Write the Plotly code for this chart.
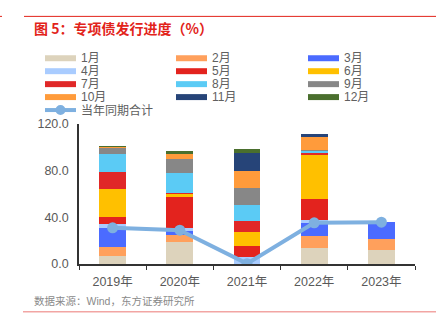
import plotly.graph_objects as go

# Cumulative issuance progress of special bonds, by month (%)
years = ["2019年", "2020年", "2021年", "2022年", "2023年"]
months = ["1月", "2月", "3月", "4月", "5月", "6月", "7月", "8月", "9月", "10月", "11月", "12月"]

jan = [6.7, 18.7, 0.0, 13.3, 11.8]
feb = [7.7, 6.0, 0.0, 10.5, 9.8]
mar = [16.6, 4.3, 0.3, 11.5, 14.2]
apr = [2.9, 1.7, 5.8, 2.8, 0.0]
may = [6.2, 26.6, 9.3, 17.8, 0.0]
jun = [24.3, 2.9, 12.0, 37.7, 0.0]
jul = [14.3, 0.5, 9.4, 1.4, 0.0]
aug = [15.2, 17.0, 13.7, 2.3, 0.0]
sep = [6.0, 12.0, 14.3, 0.3, 0.0]
oct_ = [0.4, 5.1, 14.8, 12.0, 0.0]
nov = [0.2, 0.3, 15.8, 1.5, 0.0]
dec = [0.2, 1.4, 2.8, 0.0, 0.0]
same_period = [31.0, 29.0, 0.3, 35.3, 35.8]

monthly = [jan, feb, mar, apr, may, jun, jul, aug, sep, oct_, nov, dec]
colors = ["#DDD3BC", "#FFA05C", "#4B6BFF", "#A9CCFF", "#E3231E", "#FFC000",
          "#E02828", "#5BCBF5", "#878787", "#FF9B3B", "#264478", "#4A6F2E"]
line_color = "#7EB0E0"
font_family = "Liberation Sans, Noto Sans CJK SC, sans-serif"

W, H = 441, 327
ML, MR, MT, MB = 79, 26, 124, 62.5
PW, PH = W - ML - MR, H - MT - MB

fig = go.Figure()
for name, vals, c in zip(months, monthly, colors):
    fig.add_trace(go.Bar(x=years, y=vals, name=name, marker=dict(color=c, line=dict(width=0)),
                         showlegend=False))

fig.add_trace(go.Scatter(x=years, y=same_period, name="当年同期合计", mode="lines+markers",
                         line=dict(color=line_color, width=4),
                         marker=dict(color=line_color, size=11), showlegend=False))


# helpers: page pixel -> paper coordinates (paper spans the plot area)
def px(x):
    return (x - ML) / PW


def py(y):
    return (H - MB - y) / PH


shapes = []
annotations = []

# Hand-placed legend: three columns of month swatches, then the line entry
col_x = [45, 176, 308]
row_y = [58, 71, 84, 97]
for i, (name, c) in enumerate(zip(months, colors)):
    r, k = divmod(i, 3)
    x0 = col_x[k]
    y = row_y[r]
    shapes.append(dict(type="rect", xref="paper", yref="paper",
                       x0=px(x0), x1=px(x0 + 31), y0=py(y + 3), y1=py(y - 3),
                       fillcolor=c, line=dict(width=0)))
    annotations.append(dict(xref="paper", yref="paper", x=px(x0 + 34), y=py(y),
                            text=name, showarrow=False, xanchor="left", yanchor="middle",
                            font=dict(size=12, color="#606060", family=font_family)))
ly = 110
shapes.append(dict(type="line", xref="paper", yref="paper",
                   x0=px(45), x1=px(76), y0=py(ly), y1=py(ly),
                   line=dict(color=line_color, width=4)))
shapes.append(dict(type="circle", xref="paper", yref="paper",
                   x0=px(55.5), x1=px(65.5), y0=py(ly + 5), y1=py(ly - 5),
                   fillcolor=line_color, line=dict(width=0)))
annotations.append(dict(xref="paper", yref="paper", x=px(79), y=py(ly),
                        text="当年同期合计", showarrow=False, xanchor="left", yanchor="middle",
                        font=dict(size=12, color="#606060", family=font_family)))

# Title, source note and frame rules
annotations.append(dict(xref="paper", yref="paper", x=px(32), y=py(28),
                        text="<b>图 5：专项债发行进度（%）</b>", showarrow=False,
                        xanchor="left", yanchor="middle",
                        font=dict(size=14, color="#E2231A", family="Noto Sans CJK SC")))
annotations.append(dict(xref="paper", yref="paper", x=px(32), y=py(302),
                        text="数据来源：Wind，东方证券研究所", showarrow=False,
                        xanchor="left", yanchor="middle",
                        font=dict(size=10.5, color="#8A8A8A", family=font_family)))
shapes.append(dict(type="line", xref="paper", yref="paper", x0=px(24), x1=px(436),
                   y0=py(16), y1=py(16), line=dict(color="#E2231A", width=1)))
shapes.append(dict(type="line", xref="paper", yref="paper", x0=px(0), x1=px(2),
                   y0=py(16), y1=py(16), line=dict(color="#E2231A", width=1)))
shapes.append(dict(type="line", xref="paper", yref="paper", x0=px(23), x1=px(436),
                   y0=py(312.5), y1=py(312.5), line=dict(color="#F2A5A3", width=1.5)))

fig.update_layout(
    width=W, height=H,
    margin=dict(l=ML, r=MR, t=MT, b=MB),
    barmode="stack", bargap=0.6,
    plot_bgcolor="white", paper_bgcolor="white",
    shapes=shapes, annotations=annotations,
    font=dict(family=font_family, color="#595959"),
    showlegend=False,
)
fig.update_xaxes(type="category", showline=True, linecolor="#333333", linewidth=1.5,
                 ticks="outside", tickson="boundaries", ticklen=4, tickcolor="#333333",
                 ticklabelstandoff=5,
                 tickfont=dict(size=12.5, color="#595959"), showgrid=False)
fig.update_yaxes(range=[0, 120], tickvals=[0, 40, 80, 120], tickformat=".1f",
                 showline=True, linecolor="#333333", linewidth=1.5, ticks="",
                 showgrid=False, zeroline=False, ticklabelstandoff=6,
                 tickfont=dict(size=12.5, color="#595959"))

fig.write_html("out.html")
